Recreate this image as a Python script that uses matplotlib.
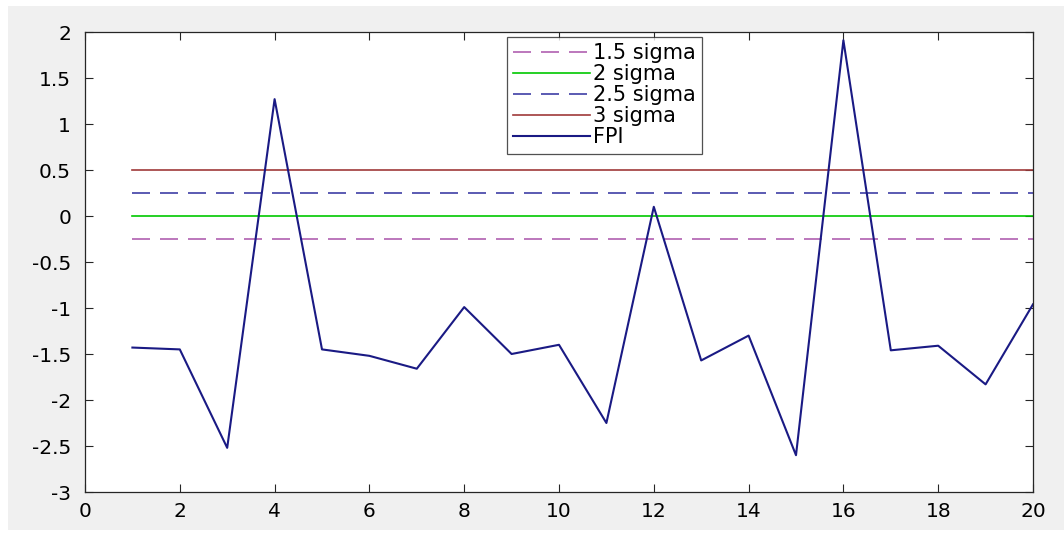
import numpy as np
import matplotlib.pyplot as plt
from matplotlib.patches import Rectangle

# data
x = np.arange(1, 21)
fpi = [-1.43, -1.45, -2.52, 1.27, -1.45, -1.52, -1.66, -0.99, -1.50, -1.40,
       -2.25, 0.10, -1.57, -1.30, -2.60, 1.91, -1.46, -1.41, -1.83, -0.96]
limit_names = ['1.5 sigma', '2 sigma', '2.5 sigma', '3 sigma']
limit_values = [-0.25, 0.0, 0.25, 0.5]
limit_colors = ['#b060b0', '#00c800', '#3e3ea6', '#a03a3a']
limit_styles = [(0, (10.8, 6)), '-', (0, (10.8, 6)), '-']

plt.rcParams['font.family'] = ['DejaVu Sans']

fig = plt.figure(figsize=(10.64, 5.33), dpi=100, facecolor='white')
fig.patches.append(Rectangle((8 / 1064, 3 / 533), 1 - 8 / 1064, 1 - 9 / 533,
                             transform=fig.transFigure, facecolor='#f0f0f0',
                             edgecolor='none', zorder=-10))
ax = fig.add_axes([85 / 1064, 1 - 492 / 533, 948 / 1064, 460 / 533])

for name, val, col, ls in zip(limit_names, limit_values, limit_colors, limit_styles):
    ax.plot(x, np.full(len(x), val), color=col, linestyle=ls, linewidth=1.2, label=name)
ax.plot(x, fpi, color='#1a1a84', linewidth=1.5, label='FPI')

ax.set_xlim(0, 20)
ax.set_ylim(-3, 2)
ax.set_xticks(np.arange(0, 21, 2))
ax.set_yticks(np.arange(-3, 2.01, 0.5))
ax.set_yticklabels(['-3', '-2.5', '-2', '-1.5', '-1', '-0.5', '0', '0.5', '1', '1.5', '2'])
ax.tick_params(direction='in', top=True, right=True, labelsize=14.5, length=6,
               width=0.8, colors='#262626', labelcolor='black')
ax.tick_params(axis='x', pad=7)
ax.tick_params(axis='y', pad=10)
for s in ax.spines.values():
    s.set_color('#262626')
    s.set_linewidth(0.9)

leg = ax.legend(loc='upper left', bbox_to_anchor=(422 / 948, 455 / 460),
                fontsize=15, frameon=True, fancybox=False, handlelength=3.7,
                handletextpad=0.12, borderpad=0.3, labelspacing=0.05,
                borderaxespad=0)
leg.get_frame().set_edgecolor('#262626')
leg.get_frame().set_linewidth(0.9)

fig.savefig('out.png', dpi=100, facecolor=fig.get_facecolor())
